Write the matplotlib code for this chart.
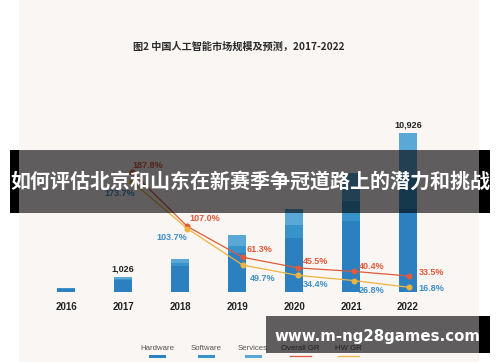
import matplotlib
matplotlib.use('Agg')
import matplotlib.pyplot as plt
from matplotlib.patches import Rectangle
from matplotlib.lines import Line2D

# ---------------- data ----------------
years = [2016, 2017, 2018, 2019, 2020, 2021, 2022]
year_labels = ['2016', '2017', '2018', '2019', '2020', '2021', '2022']
hardware = [240, 800, 1790, 2680, 3700, 4880, 5700]
software = [30, 110, 200, 500, 890, 1350, 2300]
services = [30, 116, 280, 736, 1110, 1950, 2926]
total_label_years = [2017, 2022]
total_label_texts = ['1,026', '10,926']

gr_years = [2017, 2018, 2019, 2020, 2021, 2022]
overall_gr = [187.8, 107.0, 61.3, 45.5, 40.4, 33.5]
hw_gr = [173.7, 103.7, 49.7, 34.4, 26.8, 16.8]

legend_labels = ['Hardware', 'Software', 'Services', 'Overall GR', 'HW GR']
title = '图2 中国人工智能市场规模及预测，2017-2022'
banner = '如何评估北京和山东在新赛季争冠道路上的潜力和挑战'
watermark = 'www.m-ng28games.com'

# ---------------- style ----------------
W, H = 500, 362
def fx(px):
    return px / W
def fy(py):
    return 1 - py / H

c_hw = '#2c80c0'
c_sw = '#3993cb'
c_sv = '#5aa8d6'
c_red = '#e05a3a'
c_yel = '#efb43e'
c_blue_lbl = '#3f8fc8'
panel = '#f9f6f4'
narrow = ['Liberation Sans Narrow', 'Liberation Sans', 'DejaVu Sans']

fig = plt.figure(figsize=(W / 100, H / 100), dpi=100)
fig.patch.set_facecolor('white')
fig.patches.append(Rectangle((fx(19), 0), 460 / W, 1, transform=fig.transFigure,
                             facecolor=panel, edgecolor='none', zorder=-5))

pos = [fx(19), fy(292), 460 / W, (292 - 120) / H]
ax = fig.add_axes(pos)
ax.set_facecolor('none')
ax.set_xlim(2015.1754, 2023.2456)
ax.set_ylim(0, 172 * 68.7)
bw = 0.3
ax.bar(years, hardware, width=bw, color=c_hw, zorder=2)
b2 = [h for h in hardware]
ax.bar(years, software, width=bw, bottom=b2, color=c_sw, zorder=2)
b3 = [h + s for h, s in zip(hardware, software)]
ax.bar(years, services, width=bw, bottom=b3, color=c_sv, zorder=2)
totals = {y: h + s + v for y, h, s, v in zip(years, hardware, software, services)}
for y, t in zip(total_label_years, total_label_texts):
    ax.annotate(t, (y, totals[y]), xytext=(0, 2.5), textcoords='offset points',
                ha='center', va='bottom', fontsize=6.5, fontweight='bold',
                color='#222222', family=narrow)
ax.set_xticks(years)
ax.set_xticklabels(year_labels, fontsize=7, fontweight='bold', color='#222222',
                   family=narrow)
ax.tick_params(axis='x', length=0, pad=7)
ax.set_yticks([])
for s in ax.spines.values():
    s.set_visible(False)

ax2 = fig.add_axes(pos)
ax2.set_facecolor('none')
ax2.set_xlim(2014.960, 2023.264)
ax2.set_ylim(9.8, 265.0)
ax2.plot(gr_years, overall_gr, color=c_red, lw=0.9, marker='o', ms=3.3, zorder=3)
ax2.plot(gr_years, hw_gr, color=c_yel, lw=0.9, marker='o', ms=3.3, zorder=3)
ax2.axis('off')

red_off = [(0, 5), (1.5, 5.8), (3, 5.8), (3.6, 4.3), (3.6, 3.6), (7.2, 2.2)]
blue_off = [(2, -8.6), (0, -6.5), (5, -9.4), (3.6, -6.5), (3.6, -7.2), (6.5, -0.7)]
blue_ha = ['right', 'right', 'left', 'left', 'left', 'left']
for x, v, o in zip(gr_years, overall_gr, red_off):
    ax2.annotate(f'{v:.1f}%', (x, v), xytext=o, textcoords='offset points',
                 ha='left', va='center', fontsize=6.5, fontweight='bold',
                 color=c_red, family=narrow)
for x, v, o, ha in zip(gr_years, hw_gr, blue_off, blue_ha):
    ax2.annotate(f'{v:.1f}%', (x, v), xytext=o, textcoords='offset points',
                 ha=ha, va='center', fontsize=6.5, fontweight='bold',
                 color=c_blue_lbl, family=narrow)

# title
fig.text(fx(239), fy(47), title, ha='center', va='center', fontsize=7.3,
         fontweight='bold', color='#2a2a2a', family=['Noto Sans CJK SC', 'DejaVu Sans'])

# legend
leg_x = [157, 206, 253, 300, 348]
for i, (lx, lab) in enumerate(zip(leg_x, legend_labels)):
    fig.text(fx(lx), fy(348), lab, ha='center', va='center', fontsize=5.6,
             color='#555555', family=['Liberation Sans', 'DejaVu Sans'])
    if i < 3:
        col = [c_hw, c_sw, c_sv][i]
        fig.patches.append(Rectangle((fx(lx - 8.5), fy(358)), 17 / W, 3 / H,
                                     transform=fig.transFigure, facecolor=col,
                                     edgecolor='none', zorder=2))
    else:
        col = [c_red, c_yel][i - 3]
        fig.lines.append(Line2D([fx(lx - 10.5), fx(lx + 10.5)], [fy(356), fy(356)],
                                transform=fig.transFigure, color=col, lw=0.9, zorder=2))

# banner overlay
fig.patches.append(Rectangle((fx(19), fy(213)), 460 / W, 63 / H, transform=fig.transFigure,
                             facecolor='black', alpha=0.62, edgecolor='none', zorder=10))
for x0, x1 in [(10, 19), (479, 490)]:
    fig.patches.append(Rectangle((fx(x0), fy(213)), (x1 - x0) / W, 63 / H,
                                 transform=fig.transFigure, facecolor='black',
                                 edgecolor='none', zorder=10))
fig.text(0.5, fy(181.5), banner, ha='center', va='center', fontsize=14.4,
         fontweight='bold', color='white', family=['Noto Sans CJK SC', 'DejaVu Sans'],
         zorder=11)

# watermark overlay
fig.patches.append(Rectangle((fx(266), fy(353)), 213 / W, 37 / H, transform=fig.transFigure,
                             facecolor='black', alpha=0.62, edgecolor='none', zorder=10))
fig.patches.append(Rectangle((fx(479), fy(353)), 11 / W, 37 / H, transform=fig.transFigure,
                             facecolor='black', edgecolor='none', zorder=10))
fig.text(fx(377.5), fy(336), watermark, ha='center', va='center', fontsize=10.8,
         fontweight='bold', color='white', family=['DejaVu Sans'], zorder=11)

fig.savefig('out.png', dpi=100, facecolor=fig.get_facecolor())
